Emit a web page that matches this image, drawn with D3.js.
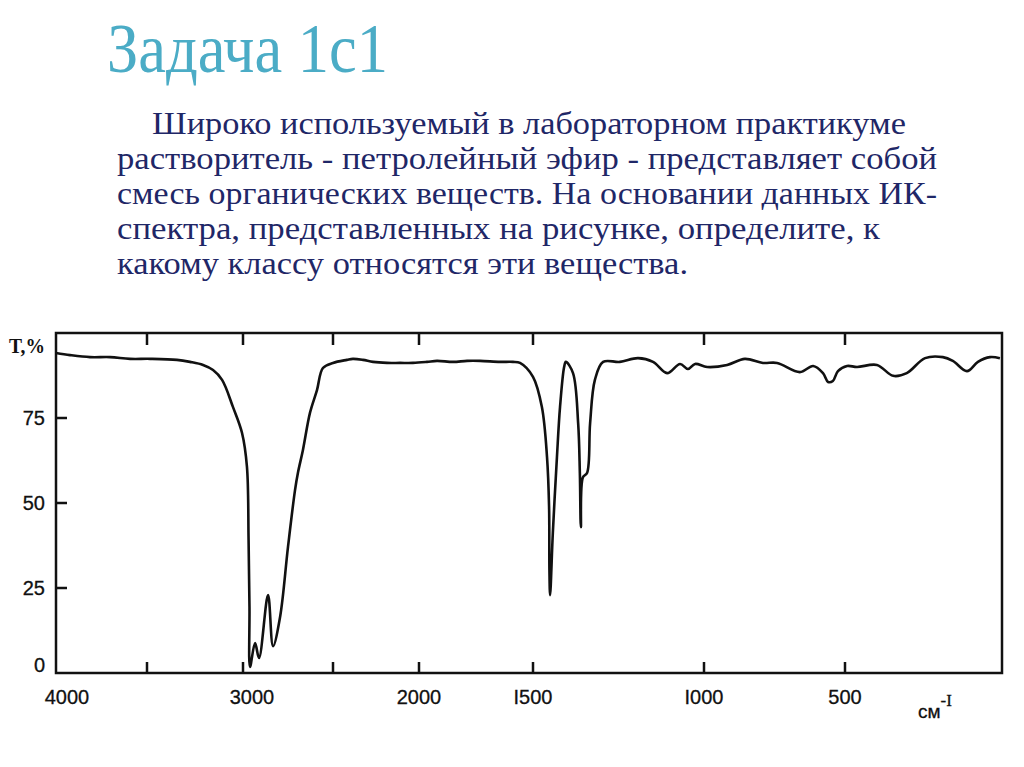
<!DOCTYPE html>
<html><head><meta charset="utf-8">
<script src="https://cdn.jsdelivr.net/npm/d3@7"></script>
<style>
html,body{margin:0;padding:0;background:#fff;}
svg{display:block;}
</style></head>
<body>
<script>
// ---- data ----
const titleText = "Задача 1с1";
const bodyLines = [
  "Широко используемый в лабораторном практикуме",
  "растворитель - петролейный эфир - представляет собой",
  "смесь органических веществ. На основании данных ИК-",
  "спектра, представленных на рисунке, определите, к",
  "какому классу относятся эти вещества."
];
const xTickValues = [4000, 3500, 3000, 2500, 2000, 1500, 1000, 500];
const xTickLabels = ["4000", "", "3000", "", "2000", "I500", "I000", "500"];
const yTickValues = [0, 25, 50, 75];
const yTickLabels = ["0", "25", "50", "75"];
// wavenumber (cm-1)
const wavenumbers = [4000,3923,3813,3703,3593,3484,3344,3276,3208,3156,3109,3052,3005,2978,2969,2964,2961,
  2933,2911,2861,2833,2794,2750,2711,2694,2667,2628,2589,2556,2500,2419,2384,2326,2267,2186,2110,2035,
  1965,1921,1851,1789,1732,1645,1588,1557,1500,1474,1459,1453,1452,1450,1442,1430,1421,1409,1404,
  1383,1368,1363,1360,1354,1342,1333,1319,1295,1246,1193,1149,1108,1070,1047,1026,989,918,855,791,741,
  660,613,578,560,543,525,496,477,439,408,382,347,313,294,267,246,223,204];
// transmittance (%)
const transmittance = [94.1,93.5,92.9,92.9,92.4,92.4,92.1,91.5,90.6,89.1,86.2,78.2,70.6,60.6,39.1,19.4,1.8,
  8.8,4.4,22.9,7.9,16.5,37.1,53.8,59.1,65.6,76.5,83.2,89.7,91.2,92.1,92.4,92.1,91.5,91.2,91.2,91.2,
  91.5,91.8,91.5,91.8,91.8,91.5,91.5,91.2,87.1,78.2,63.5,48.8,30.3,22.9,41.2,63.5,78.2,90.0,91.5,
  88.2,73.5,58.8,42.9,57.6,58.8,73.5,86.2,91.5,91.5,92.6,91.5,88.2,90.9,89.4,90.9,90.0,90.6,92.4,91.2,91.2,
  88.5,90.3,88.2,85.6,85.9,88.8,90.3,90.0,90.6,87.4,88.2,92.6,92.9,91.8,88.8,91.5,92.9,92.6];

// ---- layout ----
const W = 1024, H = 767;
const svg = d3.select("body").append("svg").attr("width", W).attr("height", H);

// title
svg.append("text")
  .attr("x", 107).attr("y", 72)
  .attr("font-family", "'Liberation Serif','Times New Roman',serif")
  .attr("font-size", 70)
  .attr("fill", "#4bacc6")
  .attr("textLength", 281).attr("lengthAdjust", "spacingAndGlyphs")
  .text(titleText);

// body
const bodyX = [152, 117, 117, 117, 117];
const bodyLen = [754, 820, 820, 763, 571];
svg.append("g").selectAll("text").data(bodyLines).join("text")
  .attr("x", (d, i) => bodyX[i])
  .attr("y", (d, i) => 134 + i * 35)
  .attr("font-family", "'Liberation Serif','Times New Roman',serif")
  .attr("font-size", 32)
  .attr("fill", "#1f2767")
  .attr("textLength", (d, i) => bodyLen[i]).attr("lengthAdjust", "spacingAndGlyphs")
  .text(d => d);

// chart
const pLeft = 56, pRight = 1002, pTop = 333, pBottom = 673;
const x = d3.scaleLinear()
  .domain([4000, 3500, 3000, 2500, 2000, 1500, 1000, 500, 200])
  .range([56, 147, 243, 333, 419, 533, 704, 845, 1002]);
const y = d3.scaleLinear().domain([0, 100]).range([pBottom, pTop]);

const axFont = "'Liberation Sans','DejaVu Sans',sans-serif";

// frame
svg.append("rect")
  .attr("x", pLeft).attr("y", pTop).attr("width", pRight - pLeft).attr("height", pBottom - pTop)
  .attr("fill", "none").attr("stroke", "#111").attr("stroke-width", 2.5);

// ticks (inward), drawn from scales
const innerX = xTickValues.slice(1);
const tickG = svg.append("g").attr("class", "ticks");
tickG.selectAll("rect.xb").data(innerX).join("rect").attr("class", "xb")
  .attr("x", d => x(d) - 1.25).attr("y", pBottom - 11)
  .attr("width", 2.5).attr("height", 11)
  .attr("fill", "#111");
tickG.selectAll("rect.xt").data(innerX).join("rect").attr("class", "xt")
  .attr("x", d => x(d) - 1.25).attr("y", pTop)
  .attr("width", 2.5).attr("height", 12)
  .attr("fill", "#111");
tickG.selectAll("rect.yl").data(yTickValues.slice(1)).join("rect").attr("class", "yl")
  .attr("x", pLeft).attr("y", d => y(d) - 1.25)
  .attr("width", 11).attr("height", 2.5)
  .attr("fill", "#111");

// x labels
svg.append("g").selectAll("text").data(xTickValues).join("text")
  .attr("x", (d, i) => x(d) + (i === 0 ? 11 : (i === 2 ? 9 : 0)))
  .attr("y", 704)
  .attr("text-anchor", "middle")
  .attr("font-family", axFont).attr("font-size", 20)
  .attr("fill", "#111").attr("stroke", "#111").attr("stroke-width", 0.3)
  .text((d, i) => xTickLabels[i]);

// units
const unit = svg.append("text").attr("x", 918).attr("y", 718)
  .attr("font-family", axFont).attr("font-size", 19)
  .attr("fill", "#111").attr("stroke", "#111").attr("stroke-width", 0.3);
unit.append("tspan").text("см");
unit.append("tspan").attr("dy", -12).attr("font-size", 17)
  .attr("font-family", "'Liberation Serif',serif").text("-I");

// y labels
svg.append("g").selectAll("text").data(yTickValues).join("text")
  .attr("x", 45)
  .attr("y", d => y(d) + 7 - (d === 0 ? 8 : 0))
  .attr("text-anchor", "end")
  .attr("font-family", axFont).attr("font-size", 20)
  .attr("fill", "#111").attr("stroke", "#111").attr("stroke-width", 0.3)
  .text((d, i) => yTickLabels[i]);

svg.append("text").attr("x", 9).attr("y", 353)
  .attr("font-family", "'Liberation Serif',serif").attr("font-size", 21).attr("font-weight", "bold")
  .attr("fill", "#111")
  .attr("textLength", 36).attr("lengthAdjust", "spacingAndGlyphs")
  .text("T,%");

// spectrum
const pts = wavenumbers.map((w, i) => [w, transmittance[i]]);
const line = d3.line().x(d => x(d[0])).y(d => y(d[1])).curve(d3.curveCatmullRom.alpha(0.5));
svg.append("path").datum(pts)
  .attr("d", line)
  .attr("fill", "none").attr("stroke", "#111").attr("stroke-width", 2.6)
  .attr("stroke-linejoin", "round");
</script>
</body></html>
